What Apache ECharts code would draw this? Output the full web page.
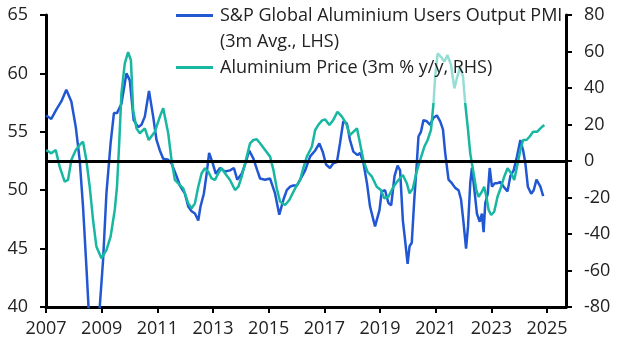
<!DOCTYPE html>
<html>
<head>
<meta charset="utf-8">
<script src="https://cdn.jsdelivr.net/npm/echarts@6/dist/echarts.min.js"></script>
<style>
html,body{margin:0;padding:0;background:#fff;}
#chart{width:627px;height:362px;}
</style>
</head>
<body>
<div id="chart"></div>
<script>
// ---- Data (decimal years) ----
const xTickYears = [2007, 2009, 2011, 2013, 2015, 2017, 2019, 2021, 2023, 2025];

const pmiName = 'S&P Global Aluminium Users Output PMI';
const pmiName2 = '(3m Avg., LHS)';
const priceName = 'Aluminium Price (3m % y/y, RHS)';

const pmiX = [2007.01,2007.19,2007.37,2007.55,2007.73,2007.91,2008.07,2008.21,2008.33,2008.45,2008.55,2008.65,2008.75,2008.85,2008.93,
2009.05,2009.17,2009.32,2009.44,2009.55,2009.71,2009.89,2010.01,2010.15,2010.31,2010.43,2010.55,2010.70,2010.85,2010.97,
2011.09,2011.21,2011.39,2011.51,2011.69,2011.81,2011.99,2012.11,2012.23,2012.35,2012.47,2012.55,2012.67,2012.77,2012.86,2012.99,
2013.10,2013.25,2013.43,2013.61,2013.75,2013.87,2014.03,2014.18,2014.30,2014.45,2014.59,2014.69,2014.87,
2015.05,2015.23,2015.38,2015.53,2015.65,2015.77,2015.88,2016.01,2016.13,2016.31,2016.49,2016.67,2016.82,2016.94,
2017.06,2017.20,2017.32,2017.45,2017.56,2017.68,2017.81,2017.92,2018.04,2018.19,2018.28,2018.40,2018.53,2018.64,2018.82,2018.98,
2019.06,2019.18,2019.30,2019.40,2019.52,2019.63,2019.72,2019.82,2019.91,2019.99,2020.06,2020.14,2020.23,2020.32,2020.38,2020.47,2020.56,2020.68,2020.80,2020.92,
2021.04,2021.16,2021.26,2021.34,2021.46,2021.58,2021.70,2021.82,2021.91,2022.00,2022.09,2022.16,2022.24,2022.30,2022.39,2022.48,2022.58,2022.66,2022.72,2022.78,2022.87,2022.94,
2023.02,2023.12,2023.22,2023.32,2023.44,2023.58,2023.68,2023.80,2023.92,2024.04,2024.14,2024.22,2024.31,2024.43,2024.52,2024.62,2024.68,2024.76,2024.86];
const pmiY = [56.4,56.1,56.9,57.6,58.6,57.6,55.4,52.6,48.6,43.5,39.0,36.5,35.5,37.5,40.0,
44.0,49.7,54.0,56.6,56.6,57.4,60.0,59.4,56.0,55.4,55.6,56.3,58.5,56.3,54.3,
53.4,52.7,52.6,52.3,51.2,50.4,49.7,48.6,48.2,48.0,47.4,48.6,49.7,51.4,53.2,52.3,
51.4,51.9,51.6,51.7,51.9,50.9,51.4,52.4,53.4,52.7,51.7,51.0,50.9,
51.0,49.7,47.9,49.2,50.0,50.3,50.4,50.4,50.9,51.7,52.9,53.4,54.0,53.3,
52.2,51.9,52.3,52.4,54.0,55.9,55.7,54.3,53.3,53.0,53.2,52.4,50.6,48.6,46.9,48.3,
49.9,50.0,48.9,48.7,51.2,52.1,51.7,47.4,45.5,43.7,45.2,45.5,49.2,52.3,54.6,55.0,56.0,55.9,55.6,56.2,
56.4,55.9,55.2,53.2,50.9,50.6,50.2,50.0,49.2,47.2,45.0,46.9,50.6,51.9,50.0,48.0,47.3,48.0,46.4,48.9,49.7,51.9,
50.3,50.6,50.6,50.7,50.3,49.9,51.2,51.7,52.9,54.3,53.4,52.3,50.3,49.7,50.0,50.9,50.9,50.3,49.5];

const priceX = [2007.01,2007.19,2007.35,2007.49,2007.67,2007.79,2007.91,2008.07,2008.21,2008.33,2008.45,2008.57,2008.69,2008.81,2008.99,
2009.17,2009.32,2009.47,2009.55,2009.63,2009.71,2009.83,2009.95,2010.05,2010.13,2010.25,2010.37,2010.55,2010.69,2010.91,
2011.09,2011.21,2011.39,2011.51,2011.63,2011.81,2011.93,2012.11,2012.23,2012.35,2012.47,2012.59,2012.71,2012.83,2012.95,
2013.07,2013.19,2013.31,2013.43,2013.61,2013.79,2013.91,2014.03,2014.18,2014.33,2014.45,2014.57,2014.69,2014.87,
2015.05,2015.17,2015.29,2015.41,2015.59,2015.74,2015.95,2016.13,2016.24,2016.37,2016.55,2016.67,2016.78,2016.91,
2017.03,2017.18,2017.32,2017.47,2017.63,2017.78,2017.92,2018.04,2018.17,2018.28,2018.40,2018.55,2018.71,2018.88,
2019.03,2019.15,2019.30,2019.48,2019.66,2019.82,2019.96,2020.06,2020.18,2020.30,2020.44,2020.59,2020.71,2020.83,2020.92,2020.98,
2021.07,2021.19,2021.31,2021.42,2021.55,2021.67,2021.76,2021.88,2021.98,2022.06,2022.16,2022.24,2022.36,2022.46,2022.54,2022.66,2022.74,2022.82,2022.90,2022.99,
2023.10,2023.22,2023.35,2023.46,2023.58,2023.71,2023.82,2023.92,2024.04,2024.14,2024.26,2024.37,2024.50,2024.64,2024.76,2024.90];
const priceY = [6.0,4.2,6.0,-3.1,-11.3,-10.4,0.5,6.0,8.8,10.6,0.5,-14.1,-32.3,-46.9,-53.3,
-48.8,-41.5,-26.8,-14.1,9.7,37.1,53.5,59.6,55.3,27.9,17.9,15.2,17.9,11.5,16.0,
24.3,28.9,15.2,0.5,-10.4,-13.2,-15.0,-23.2,-25.9,-23.2,-14.1,-6.7,-4.0,-5.9,-9.5,
-10.4,-6.7,-4.0,-6.7,-10.4,-15.9,-14.1,-8.6,0.5,9.7,11.5,11.9,9.7,6.0,
2.4,-4.9,-15.0,-22.3,-24.1,-21.4,-15.0,-10.4,-4.0,2.4,7.8,17.0,19.7,22.1,
22.8,19.7,22.5,27.0,24.3,20.6,14.2,16.0,17.9,9.7,0.5,-5.9,-8.6,-14.1,
-15.9,-20.4,-19.6,-14.1,-10.4,-7.7,-12.2,-17.7,-15.0,-6.7,0.5,7.8,11.5,17.0,31.6,46.2,
59.0,57.1,54.4,58.1,52.6,39.8,45.3,51.7,46.2,31.6,17.0,4.2,-6.7,-15.9,-19.6,-16.8,-14.1,-19.6,-26.8,-29.6,
-27.8,-19.6,-14.1,-8.6,-4.0,-6.7,-10.4,-3.1,6.0,11.5,11.5,13.3,16.0,16.0,17.9,19.7];

const pmiColor = '#2157d3';
const priceColor = '#17b7a2';
const font = 'Open Sans';
const fs = 18;

const pair = (xs, ys) => xs.map((x, i) => [x, ys[i]]);

const chart = echarts.init(document.getElementById('chart'), null, {renderer: 'canvas'});
chart.setOption({
  animation: false,
  backgroundColor: '#fff',
  grid: {left: 46, right: 61, top: 15, bottom: 55, containLabel: false},
  legend: {
    orient: 'vertical', left: 170, top: 0,
    padding: [5, 0, 25, 6], itemGap: 5, itemWidth: 37, itemHeight: 3, icon: 'rect',
    backgroundColor: 'rgba(255,255,255,0.55)', selectedMode: false,
    textStyle: {fontSize: fs, fontFamily: font, color: '#222', lineHeight: 21, padding: [0, 0, 0, 2]},
    data: [pmiName, pmiName2, priceName]
  },
  xAxis: {
    type: 'value', min: 2007, max: 2025.68,
    axisLine: {show: true, onZero: false, lineStyle: {color: '#000', width: 3}},
    axisTick: {show: true, length: 6, lineStyle: {color: '#000', width: 2}, customValues: xTickYears},
    axisLabel: {fontSize: fs, fontFamily: font, color: '#222', margin: 13, customValues: xTickYears, formatter: v => String(v)},
    splitLine: {show: false}
  },
  yAxis: [
    {
      type: 'value', min: 40, max: 65, interval: 5, position: 'left',
      axisLine: {show: true, lineStyle: {color: '#000', width: 3}},
      axisTick: {show: true, length: 6, lineStyle: {color: '#000', width: 2}},
      axisLabel: {fontSize: fs, fontFamily: font, color: '#222', margin: 18},
      splitLine: {show: false}
    },
    {
      type: 'value', min: -80, max: 80, interval: 20, position: 'right',
      axisLine: {show: true, lineStyle: {color: '#000', width: 3}},
      axisTick: {show: true, length: 6, lineStyle: {color: '#000', width: 2}},
      axisLabel: {fontSize: fs, fontFamily: font, color: '#222', margin: 18},
      splitLine: {show: false}
    }
  ],
  series: [
    {
      name: pmiName, type: 'line', yAxisIndex: 0, data: pair(pmiX, pmiY),
      showSymbol: false, symbol: 'none', clip: true,
      lineStyle: {color: pmiColor, width: 2.5}, itemStyle: {color: pmiColor}, z: 2
    },
    {
      name: pmiName2, type: 'line', yAxisIndex: 0, data: [],
      symbol: 'none', lineStyle: {color: 'rgba(0,0,0,0)'}, itemStyle: {color: 'rgba(0,0,0,0)'}
    },
    {
      name: priceName, type: 'line', yAxisIndex: 1, data: pair(priceX, priceY),
      showSymbol: false, symbol: 'none', clip: true,
      lineStyle: {color: priceColor, width: 2.5}, itemStyle: {color: priceColor}, z: 3,
      markLine: {
        silent: true, symbol: 'none', label: {show: false},
        lineStyle: {color: '#000', width: 3, type: 'solid'},
        data: [{yAxis: 0}]
      }
    }
  ]
});
</script>
</body>
</html>
